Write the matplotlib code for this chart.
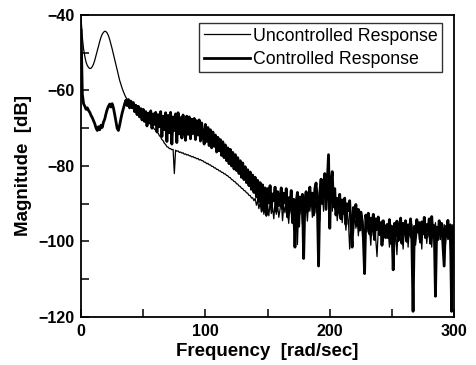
import numpy as np
import matplotlib
matplotlib.use("Agg")
import matplotlib.pyplot as plt
from matplotlib.ticker import MultipleLocator

plt.rcParams['font.family'] = ['Liberation Sans', 'DejaVu Sans']

# frequency grid [rad/sec], one sample per rad/sec
freq = np.arange(0, 301, 1)

# magnitude of the uncontrolled plant response [dB]
uncontrolled = [
    -41.0, -46.0, -49.0, -51.0, -52.5, -53.4, -53.9, -54.2, -54.1, -53.7,
    -53.0, -52.0, -50.8, -49.5, -48.2, -47.0, -45.9, -45.1, -44.6, -44.3,
    -44.4, -44.8, -45.5, -46.5, -47.7, -49.0, -50.4, -51.8, -53.2, -54.6,
    -56.0, -57.3, -58.4, -59.4, -60.3, -61.1, -61.8, -62.4, -63.0, -63.4,
    -63.7, -64.1, -64.2, -64.7, -64.8, -65.3, -65.5, -66.0, -66.1, -66.6,
    -66.7, -67.3, -67.4, -68.0, -68.2, -68.7, -68.9, -69.5, -69.7, -70.3,
    -70.5, -71.1, -71.3, -72.0, -72.3, -73.0, -73.3, -74.0, -74.3, -74.9,
    -75.0, -75.4, -75.4, -75.7, -75.6, -82.0, -75.8, -76.1, -76.0, -76.4,
    -76.3, -76.6, -76.5, -76.9, -76.8, -77.1, -77.0, -77.3, -77.3, -77.6,
    -77.5, -77.8, -77.8, -78.1, -78.0, -78.4, -78.3, -78.6, -78.6, -79.0,
    -79.0, -79.4, -79.3, -79.7, -79.7, -80.1, -80.1, -80.5, -80.5, -80.9,
    -80.9, -81.3, -81.3, -81.7, -81.7, -82.1, -82.1, -82.5, -82.6, -83.0,
    -83.1, -83.6, -83.7, -84.1, -84.2, -84.7, -84.8, -85.3, -85.4, -85.9,
    -86.0, -86.5, -86.6, -87.1, -87.2, -87.8, -87.8, -88.5, -88.4, -89.2,
    -88.6, -90.4, -89.2, -91.3, -89.6, -92.2, -90.0, -92.8, -90.4, -93.3,
    -90.5, -93.2, -89.8, -92.6, -91.0, -94.0, -89.5, -92.8, -90.2, -93.6,
    -91.5, -89.0, -94.5, -90.6, -92.4, -88.8, -91.8, -95.2, -90.0, -92.5,
    -89.6, -97.0, -91.2, -93.5, -100.8, -90.5, -92.8, -89.4, -95.5, -91.0,
    -93.0, -90.2, -94.6, -89.5, -92.0, -88.5, -93.6, -90.4, -88.0, -92.5,
    -86.5, -91.0, -94.5, -88.0, -86.0, -92.0, -85.5, -88.5, -83.0, -86.5,
    -89.0, -82.5, -92.0, -88.0, -91.5, -89.0, -94.5, -91.0, -93.5, -90.0,
    -95.0, -91.5, -93.0, -97.0, -92.0, -94.5, -102.0, -95.5, -93.0, -98.0,
    -92.5, -96.5, -93.5, -98.5, -94.0, -97.0, -93.0, -96.0, -100.0, -94.5,
    -97.5, -94.0, -96.5, -101.0, -95.0, -98.5, -94.5, -99.5, -104.0, -97.0,
    -95.5, -97.5, -94.5, -100.0, -96.5, -98.5, -96.0, -97.0, -101.5, -95.5,
    -99.0, -96.0, -101.5, -97.0, -103.5, -96.5, -99.5, -95.0, -98.0, -102.0,
    -96.0, -99.5, -95.5, -101.5, -97.0, -99.0, -95.5, -100.5, -96.5, -101.0,
    -97.5, -95.0, -99.5, -96.5, -102.0, -95.5, -98.0, -96.0, -100.5, -97.0,
    -99.0, -95.5, -101.5, -96.5, -98.5, -95.0, -100.0, -97.5, -97.5, -99.5,
    -96.0, -98.5, -95.5, -101.0, -97.0, -99.5, -96.0, -102.0, -98.0, -95.5,
    -98.0,
]

# magnitude of the closed-loop (controlled) response [dB]
controlled = [
    -44.0, -61.0, -63.5, -64.2, -65.0, -64.6, -65.3, -65.8, -66.6, -67.2,
    -68.0, -68.8, -69.9, -70.6, -69.6, -70.4, -69.2, -69.8, -68.4, -67.6,
    -66.2, -65.0, -64.2, -63.6, -64.4, -63.5, -64.6, -66.3, -68.2, -70.0,
    -70.6, -69.2, -67.5, -66.0, -64.8, -63.6, -62.6, -64.0, -62.4, -64.6,
    -62.8, -64.6, -63.2, -65.6, -63.9, -66.4, -64.2, -67.0, -64.8, -67.8,
    -65.0, -68.2, -65.6, -69.4, -66.0, -68.6, -65.4, -70.0, -66.2, -69.0,
    -65.8, -71.0, -66.4, -69.6, -65.6, -72.2, -66.8, -70.4, -65.9, -73.5,
    -66.6, -71.2, -65.8, -74.2, -67.0, -70.6, -66.2, -73.8, -65.9, -71.5,
    -67.2, -72.6, -66.5, -70.8, -73.2, -66.8, -71.6, -67.0, -72.8, -67.6,
    -71.4, -67.4, -73.0, -68.0, -71.8, -67.8, -73.4, -68.6, -72.0, -74.2,
    -69.0, -73.5, -69.8, -74.6, -70.4, -75.2, -71.0, -74.8, -71.8, -76.3,
    -72.4, -76.0, -73.0, -77.2, -73.6, -77.8, -74.4, -78.6, -75.2, -79.4,
    -75.6, -80.0, -76.4, -80.8, -77.0, -81.2, -77.8, -82.0, -78.6, -83.0,
    -79.2, -83.6, -80.2, -84.4, -81.0, -85.2, -81.6, -86.2, -82.4, -87.0,
    -83.0, -88.2, -83.8, -89.4, -84.4, -90.6, -85.0, -92.0, -85.8, -93.0,
    -86.0, -89.8, -85.2, -91.0, -87.4, -89.2, -85.6, -92.0, -86.8, -90.5,
    -88.0, -85.8, -91.3, -87.2, -89.8, -86.0, -93.5, -88.4, -90.6, -86.5,
    -95.0, -88.8, -101.5, -89.5, -87.0, -96.0, -88.2, -91.4, -87.5, -104.5,
    -89.0, -86.8, -92.0, -88.5, -85.6, -90.4, -87.2, -93.0, -86.0, -84.5,
    -89.5, -106.5, -87.0, -83.5, -90.0, -85.0, -82.0, -91.5, -84.0, -77.0,
    -96.5, -84.5, -81.5, -90.8, -86.0, -93.0, -88.6, -90.5, -87.5, -94.0,
    -89.0, -92.6, -88.5, -95.5, -90.0, -91.8, -89.2, -96.0, -101.5, -91.0,
    -93.5, -90.2, -95.8, -91.5, -97.0, -92.2, -94.5, -99.0, -108.5, -93.0,
    -95.5, -92.5, -98.0, -93.8, -96.5, -92.8, -99.5, -94.0, -96.8, -93.5,
    -98.2, -95.0, -101.0, -94.5, -97.5, -99.0, -95.5, -99.0, -94.2, -100.5,
    -96.0, -107.5, -95.2, -98.5, -94.6, -99.8, -96.5, -93.8, -100.5, -95.2,
    -97.8, -94.5, -100.0, -95.6, -98.2, -94.0, -99.5, -118.5, -96.0, -98.8,
    -94.2, -97.5, -95.0, -100.2, -94.8, -98.0, -93.6, -99.0, -95.5, -97.2,
    -94.0, -100.5, -93.4, -98.5, -95.8, -114.5, -96.2, -99.5, -94.5, -97.8,
    -95.2, -100.8, -106.5, -96.0, -98.5, -94.4, -99.2, -95.6, -118.5, -96.5,
    -97.0,
]

x_ticks = [0, 100, 200, 300]
y_ticks = [-120, -100, -80, -60, -40]

fig = plt.figure(figsize=(4.77, 3.65), dpi=100)
ax = fig.add_axes([0.170, 0.1315, 0.782, 0.8275])

ax.plot(freq, uncontrolled, color='black', lw=0.9, label='Uncontrolled Response')
ax.plot(freq, controlled, color='black', lw=2.0, label='Controlled Response')

ax.set_xlim(0, 300)
ax.set_ylim(-120, -40)
ax.set_xticks(x_ticks)
ax.set_yticks(y_ticks)
ax.xaxis.set_minor_locator(MultipleLocator(50))
ax.yaxis.set_minor_locator(MultipleLocator(10))
ax.tick_params(which='both', direction='in', top=False, right=False,
               width=1.1, length=6, labelsize=11.5, pad=5)
for lab in ax.get_xticklabels() + ax.get_yticklabels():
    lab.set_fontweight('bold')
for sp in ax.spines.values():
    sp.set_linewidth(1.3)

ax.set_xlabel('Frequency  [rad/sec]', fontsize=13.5, fontweight='bold', labelpad=3)
ax.set_ylabel('Magnitude  [dB]', fontsize=13.5, fontweight='bold', labelpad=4)

leg = ax.legend(loc='upper right', bbox_to_anchor=(0.967, 0.973), fontsize=12.8,
                frameon=True, fancybox=False, edgecolor='black',
                handlelength=2.6, handletextpad=0.15, borderpad=0.25,
                labelspacing=0.35, borderaxespad=0.0)
leg.get_frame().set_linewidth(1.0)

fig.savefig('out.png', dpi=100)
